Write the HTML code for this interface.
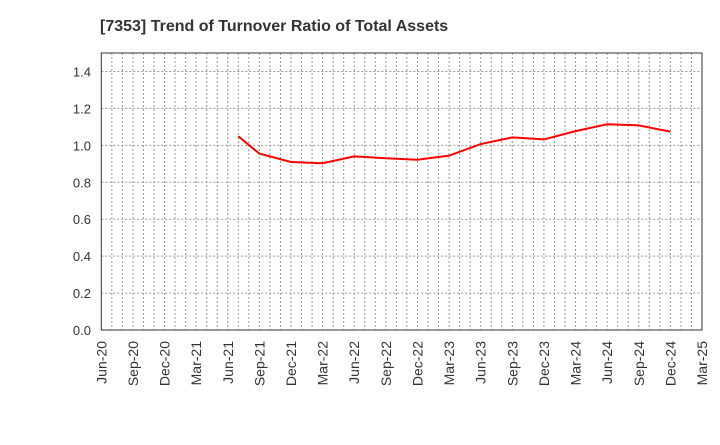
<!DOCTYPE html>
<html><head><meta charset="utf-8"><style>
body{margin:0;background:#fff;font-family:"Liberation Sans",sans-serif}
</style></head><body>
<svg width="720" height="440" xmlns="http://www.w3.org/2000/svg">
<text x="100" y="31" font-size="16" font-weight="bold" fill="#333">[7353]  Trend of Turnover Ratio of Total Assets</text>
<g id="grid"></g><g id="axes"></g><g id="series"></g>
</svg>
<script>
const months = [13,15,18,21,24,27,30,33,36,39,42,45,48,51,54];
const values = [1.049,0.955,0.91,0.903,0.94,0.93,0.922,0.944,1.007,1.043,1.032,1.077,1.114,1.108,1.074];
const xTickLabels = ["Jun-20","Sep-20","Dec-20","Mar-21","Jun-21","Sep-21","Dec-21","Mar-22","Jun-22","Sep-22","Dec-22","Mar-23","Jun-23","Sep-23","Dec-23","Mar-24","Jun-24","Sep-24","Dec-24","Mar-25"];
const yTicks = [0,0.2,0.4,0.6,0.8,1.0,1.2,1.4];
const L=101.3,R=702,T=53,B=330,YMAX=1.5,NM=57;
const ns="http://www.w3.org/2000/svg";
const x=m=>L+m*(R-L)/NM, y=v=>B-v*(B-T)/YMAX;
function mk(t,a,p){const e=document.createElementNS(ns,t);for(const k in a)e.setAttribute(k,a[k]);p.appendChild(e);return e;}
const g=document.getElementById('grid'),ax=document.getElementById('axes'),s=document.getElementById('series');
for(let m=1;m<NM;m++){const l=mk('line',{x1:x(m),x2:x(m),y1:T,y2:B,stroke:'#999','stroke-width':1,'stroke-dasharray':'2,2'},g);

}
yTicks.forEach(v=>{if(v>0){const l=mk('line',{x1:L,x2:R,y1:y(v),y2:y(v),stroke:'#999','stroke-width':1,'stroke-dasharray':'2,2'},g);

}
const t=mk('text',{x:91,y:y(v)+5,'text-anchor':'end','font-size':13,fill:'#333'},ax);t.textContent=v.toFixed(1);

});
xTickLabels.forEach((lb,i)=>{const xx=x(i*3);const t=mk('text',{transform:`translate(${xx+5},341) rotate(-90)`,'text-anchor':'end','font-size':14,fill:'#333'},ax);t.textContent=lb;

});
const fr=mk('rect',{x:L,y:T,width:R-L,height:B-T,fill:'none',stroke:'#333','stroke-width':1},ax);


const pl=mk('polyline',{points:months.map((m,i)=>x(m)+','+y(values[i])).join(' '),fill:'none',stroke:'#ff0000','stroke-width':2},s);


</script>
</body></html>
